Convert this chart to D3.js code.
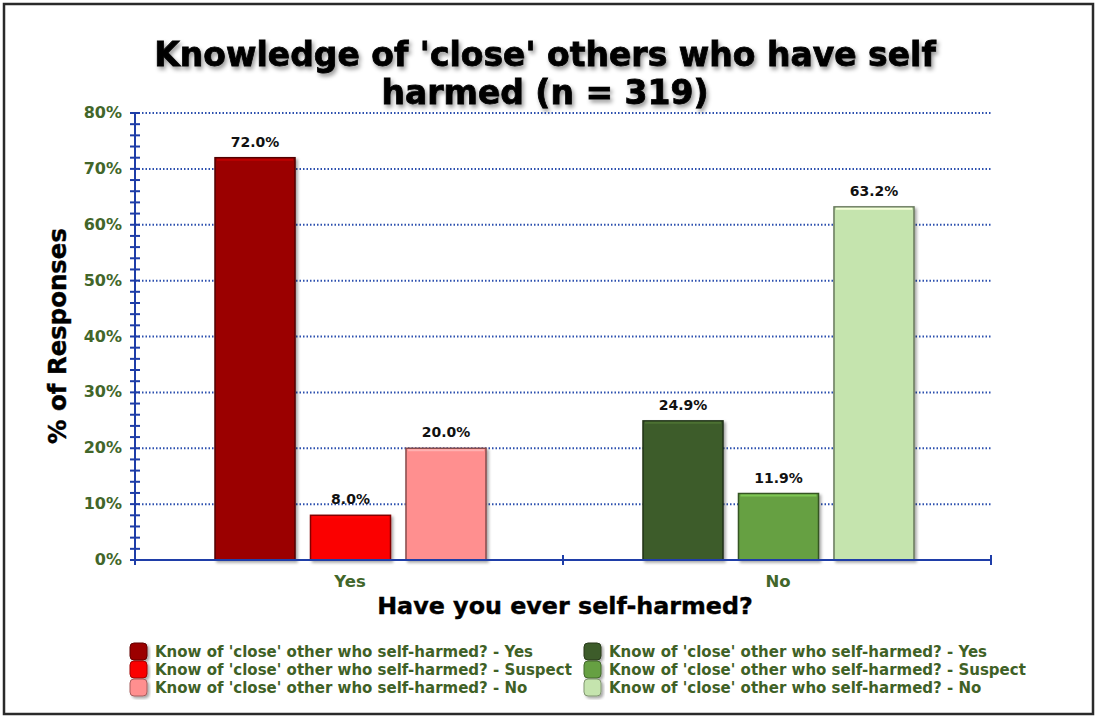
<!DOCTYPE html>
<html>
<head>
<meta charset="utf-8">
<script src="https://cdn.jsdelivr.net/npm/d3@7"></script>
<style>
  body { margin: 0; background: #fff; }
  svg { display: block; font-family: "DejaVu Sans", Verdana, sans-serif; }
</style>
</head>
<body>
<svg id="chart" width="1096" height="718"></svg>
<script>
// data
var categories = ["Yes", "No"];
var seriesNames = ["Yes", "Suspect", "No"];
var yesValues = [72.0, 8.0, 20.0];
var noValues = [24.9, 11.9, 63.2];
var yTicks = [0, 10, 20, 30, 40, 50, 60, 70, 80];
var yesColors = ["#9b0000", "#fb0303", "#ff8f8f"];
var noColors = ["#3d5b29", "#66a043", "#c5e4ae"];

var values = [yesValues, noValues];
var colors = [yesColors, noColors];

var svg = d3.select("#chart");
var defs = svg.append("defs");

var shadow = defs.append("filter").attr("id", "shadow")
    .attr("x", "-20%").attr("y", "-20%").attr("width", "140%").attr("height", "140%");
shadow.append("feDropShadow").attr("dx", 2).attr("dy", 2).attr("stdDeviation", 1.5)
    .attr("flood-color", "#000").attr("flood-opacity", 0.35);

var tshadow = defs.append("filter").attr("id", "tshadow")
    .attr("x", "-5%").attr("y", "-20%").attr("width", "110%").attr("height", "150%");
tshadow.append("feDropShadow").attr("dx", 2).attr("dy", 3).attr("stdDeviation", 2)
    .attr("flood-color", "#000").attr("flood-opacity", 0.4);

// outer frame
svg.append("rect").attr("x", 4).attr("y", 4).attr("width", 1089).attr("height", 710)
    .attr("fill", "#fff").attr("stroke", "#2a2a2a").attr("stroke-width", 2.5);

// title
var title = svg.append("text").attr("text-anchor", "middle")
    .attr("font-size", "33px").attr("font-weight", "bold").attr("fill", "#000")
    .attr("stroke", "#000").attr("stroke-width", 0.8)
    .attr("filter", "url(#tshadow)");
title.append("tspan").attr("x", 545).attr("y", 66).text("Knowledge of 'close' others who have self");
title.append("tspan").attr("x", 545).attr("y", 104).text("harmed (n = 319)");

var plotLeft = 135, plotRight = 991, plotTop = 113, plotBottom = 560;

var y = d3.scaleLinear().domain([0, 80]).range([plotBottom, plotTop]);
var x0 = d3.scaleBand().domain(categories).range([plotLeft, plotRight]).padding(0);
var x1 = d3.scaleBand().domain(seriesNames).range([80, 351]).paddingInner(0.162).paddingOuter(0);

// gridlines
svg.append("g").selectAll("line").data(yTicks.filter(function (d) { return d > 0; }))
    .enter().append("line")
    .attr("x1", plotLeft).attr("x2", plotRight)
    .attr("y1", function (d) { return y(d); }).attr("y2", function (d) { return y(d); })
    .attr("stroke", "#2b4fae").attr("stroke-width", 2).attr("stroke-dasharray", "1.5,2");

// bars
var groups = svg.append("g").selectAll("g").data(categories).enter().append("g")
    .attr("transform", function (d) { return "translate(" + x0(d) + ",0)"; });

groups.each(function (cat, ci) {
    var g = d3.select(this);
    var data = seriesNames.map(function (s, i) { return { s: s, v: values[ci][i], c: colors[ci][i] }; });
    g.selectAll("rect.bar").data(data).enter().append("rect").attr("class", "bar")
        .attr("x", function (d) { return x1(d.s); })
        .attr("y", function (d) { return y(d.v); })
        .attr("width", x1.bandwidth())
        .attr("height", function (d) { return plotBottom - y(d.v); })
        .attr("fill", function (d) { return d.c; })
        .attr("stroke", function (d) { return d3.color(d.c).darker(1.8); })
        .attr("stroke-width", 1.5)
        .attr("filter", "url(#shadow)");
    // top highlight
    g.selectAll("line.hl").data(data).enter().append("line").attr("class", "hl")
        .attr("x1", function (d) { return x1(d.s) + 2; })
        .attr("x2", function (d) { return x1(d.s) + x1.bandwidth() - 2; })
        .attr("y1", function (d) { return y(d.v) + 2; })
        .attr("y2", function (d) { return y(d.v) + 2; })
        .attr("stroke", function (d) { return d3.color(d.c).brighter(0.6); })
        .attr("stroke-width", 2);
    g.selectAll("text.val").data(data).enter().append("text").attr("class", "val")
        .attr("x", function (d) { return x1(d.s) + x1.bandwidth() / 2; })
        .attr("y", function (d) { return y(d.v) - 11; })
        .attr("text-anchor", "middle").attr("font-size", "14px").attr("font-weight", "bold")
        .attr("fill", "#111")
        .text(function (d) { return d.v.toFixed(1) + "%"; });
});

// y axis
var blue = "#1f3ea8";
svg.append("line").attr("x1", plotLeft).attr("x2", plotLeft).attr("y1", plotTop).attr("y2", plotBottom)
    .attr("stroke", blue).attr("stroke-width", 2);
svg.append("g").selectAll("line").data(d3.range(0, 81, 2)).enter().append("line")
    .attr("x1", plotLeft - 5).attr("x2", plotLeft + 5)
    .attr("y1", function (d) { return y(d); }).attr("y2", function (d) { return y(d); })
    .attr("stroke", blue).attr("stroke-width", 2);
svg.append("g").selectAll("text").data(yTicks).enter().append("text")
    .attr("x", plotLeft - 13).attr("y", function (d) { return y(d) + 5; })
    .attr("text-anchor", "end").attr("font-size", "16px").attr("font-weight", "bold")
    .attr("fill", "#42662a")
    .text(function (d) { return d + "%"; });

// x axis
svg.append("line").attr("x1", plotLeft).attr("x2", plotRight).attr("y1", plotBottom).attr("y2", plotBottom)
    .attr("stroke", blue).attr("stroke-width", 2);
svg.append("g").selectAll("line").data([plotLeft, x0("No"), plotRight]).enter().append("line")
    .attr("x1", function (d) { return d; }).attr("x2", function (d) { return d; })
    .attr("y1", plotBottom - 5).attr("y2", plotBottom + 5)
    .attr("stroke", blue).attr("stroke-width", 2);
svg.append("g").selectAll("text").data(categories).enter().append("text")
    .attr("x", function (d) { return x0(d) + x0.bandwidth() / 2 + 1; })
    .attr("y", 587).attr("text-anchor", "middle")
    .attr("font-size", "16.5px").attr("font-weight", "bold").attr("fill", "#42662a")
    .text(function (d) { return d; });

// axis titles
svg.append("text").attr("x", 565).attr("y", 614).attr("text-anchor", "middle")
    .attr("font-size", "23.8px").attr("font-weight", "bold").attr("fill", "#000")
    .attr("stroke", "#000").attr("stroke-width", 0.4)
    .text("Have you ever self-harmed?");
svg.append("text").attr("transform", "translate(66,336) rotate(-90)").attr("text-anchor", "middle")
    .attr("font-size", "24.4px").attr("font-weight", "bold").attr("fill", "#000")
    .attr("stroke", "#000").attr("stroke-width", 0.4)
    .text("% of Responses");

// legend
var legendRows = [];
categories.forEach(function (cat, ci) {
    seriesNames.forEach(function (s, i) {
        legendRows.push({ col: ci, row: i, color: colors[ci][i], label: "Know of 'close' other who self-harmed? - " + s });
    });
});
var lg = svg.append("g").selectAll("g").data(legendRows).enter().append("g")
    .attr("transform", function (d) { return "translate(" + (d.col === 0 ? 130 : 584) + "," + (643 + d.row * 18) + ")"; });
lg.append("rect").attr("width", 17).attr("height", 17).attr("rx", 4)
    .attr("fill", function (d) { return d.color; })
    .attr("stroke", function (d) { return d3.color(d.color).darker(1.2); }).attr("stroke-width", 1)
    .attr("filter", "url(#shadow)");
lg.append("text").attr("x", 25).attr("y", 14)
    .attr("font-size", "15px").attr("font-weight", "bold").attr("fill", "#3f6126")
    .text(function (d) { return d.label; });
</script>
</body>
</html>
